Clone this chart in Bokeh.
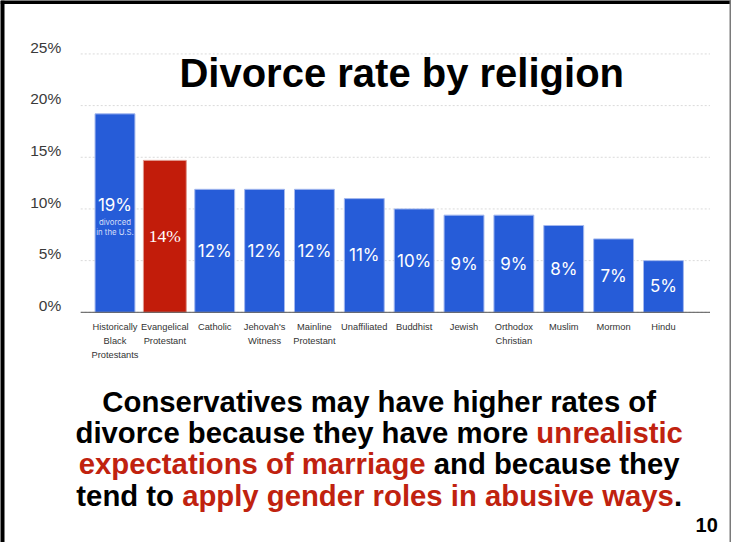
from bokeh.plotting import figure
from bokeh.models import Range1d, Label, Span, ColumnDataSource
from bokeh.core.properties import value
from bokeh.embed import file_html
from bokeh.resources import INLINE

# ---------------- data ----------------
categories = ["Historically\nBlack\nProtestants", "Evangelical\nProtestant", "Catholic",
              "Jehovah's\nWitness", "Mainline\nProtestant", "Unaffiliated", "Buddhist",
              "Jewish", "Orthodox\nChristian", "Muslim", "Mormon", "Hindu"]
divorce_rate = [19.2, 14.7, 11.9, 11.9, 11.9, 11.0, 10.0, 9.4, 9.4, 8.4, 7.1, 5.0]
rate_labels = ["19%", "14%", "12%", "12%", "12%", "11%", "10%", "9%", "9%", "8%", "7%", "5%"]
highlight_index = 1
first_bar_note = ["divorced", "in the U.S."]
y_ticks = [0, 5, 10, 15, 20, 25]
y_tick_labels = ["0%", "5%", "10%", "15%", "20%", "25%"]
title_text = "Divorce rate by religion"
note_lines = [
    [("Conservatives may have higher rates of", "black")],
    [("divorce because they have more ", "black"), ("unrealistic", "red")],
    [("expectations of marriage", "red"), (" and because they", "black")],
    [("tend to ", "black"), ("apply gender roles in abusive ways", "red"), (".", "black")],
]
page_number = "10"

# ---------------- styles / layout ----------------
BLUE = "#265cd8"
BLUE_EDGE = "#a3b8ee"
RED = "#c21c0a"
RED_EDGE = "#e0998f"
TEXT_RED = "#c0220f"
SANS = "Liberation Sans"

W, H = 731, 542
PX_PER_CAT = 49.86      # horizontal distance between bar centres
FIRST_BAR_PX = 114.49   # centre of first bar from the left edge
PX_PER_PCT = 10.335     # vertical pixels per percentage point
ZERO_PX = 311.8         # baseline from the top edge
GRID_LEFT_PX, GRID_RIGHT_PX = 80.2, 709.5

x_start = -FIRST_BAR_PX / PX_PER_CAT
x_end = x_start + W / PX_PER_CAT
y_end = ZERO_PX / PX_PER_PCT
y_start = y_end - H / PX_PER_PCT
gx0 = x_start + GRID_LEFT_PX / PX_PER_CAT
gx1 = x_start + GRID_RIGHT_PX / PX_PER_CAT

p = figure(width=W, height=H, output_backend="svg", toolbar_location=None,
           x_range=Range1d(x_start, x_end), y_range=Range1d(y_start, y_end),
           x_axis_location=None, y_axis_location=None, min_border=0,
           background_fill_color="white", border_fill_color="white",
           outline_line_color=None)
p.grid.visible = False

# slide frame
p.add_layout(Span(location=x_start, dimension="height", line_color="black", line_width=8))
p.add_layout(Span(location=y_end, dimension="width", line_color="black", line_width=7))
p.add_layout(Span(location=x_end, dimension="height", line_color="#7a7a7a", line_width=4))

# gridlines
n = len(y_ticks)
p.segment(x0=[gx0] * n, y0=y_ticks, x1=[gx1] * n, y1=y_ticks,
          line_color="#dadada", line_dash="2 2", line_width=1)

# y tick labels (sit a little above their gridlines)
LIFT = 6.8 / PX_PER_PCT
for t, lab in zip(y_ticks, y_tick_labels):
    p.add_layout(Label(x=60.7, x_units="screen", y=t + LIFT, y_units="data", text=lab,
                       text_align="right", text_baseline="middle", text_font=SANS,
                       text_font_size="15.5px", text_color="#3a3a3a"))

# ---------------- bars ----------------
xs = list(range(len(categories)))
blue_idx = [i for i in xs if i != highlight_index]
blue = ColumnDataSource(dict(x=[xs[i] for i in blue_idx],
                             top=[divorce_rate[i] for i in blue_idx]))
red = ColumnDataSource(dict(x=[xs[highlight_index]], top=[divorce_rate[highlight_index]]))
p.vbar(x="x", top="top", bottom=0, width=0.8, source=blue,
       fill_color=BLUE, line_color=BLUE_EDGE, line_width=1)
p.vbar(x="x", top="top", bottom=0, width=0.86, source=red,
       fill_color=RED, line_color=RED_EDGE, line_width=1)

# baseline
p.segment(x0=[gx0], y0=[0], x1=[gx1], y1=[0], line_color="#555555", line_width=1)

# category labels
cat_src = ColumnDataSource(dict(x=xs, y=[-10.0 / PX_PER_PCT] * len(xs), t=categories))
p.text(x="x", y="y", text="t", source=cat_src, text_align="center", text_baseline="top",
       text_color="#333333", text_font=value(SANS), text_font_size="9.3px",
       text_line_height=1.39)

# value labels in the middle of the bars
mid_idx = [i for i in xs if i not in (0, highlight_index)]
mid_src = ColumnDataSource(dict(x=[xs[i] for i in mid_idx],
                                y=[divorce_rate[i] / 2 for i in mid_idx],
                                t=[rate_labels[i] for i in mid_idx]))
p.text(x="x", y="y", text="t", source=mid_src, text_align="center", text_baseline="middle",
       text_color="white", text_font=value("Inter"), text_font_size="17px")

first_src = ColumnDataSource(dict(x=[xs[0]], y=[divorce_rate[0] / 2 + 0.75], t=[rate_labels[0]]))
p.text(x="x", y="y", text="t", source=first_src, text_align="center", text_baseline="middle",
       text_color="white", text_font=value("Inter"), text_font_size="17px")
note_src = ColumnDataSource(dict(x=[xs[0], xs[0]],
                                 y=[divorce_rate[0] / 2 - 0.86, divorce_rate[0] / 2 - 1.8],
                                 t=first_bar_note))
p.text(x="x", y="y", text="t", source=note_src, text_align="center", text_baseline="middle",
       text_color="#d5def8", text_font=value("Inter"), text_font_size="7.8px")

red_lbl = ColumnDataSource(dict(x=[xs[highlight_index]], y=[divorce_rate[highlight_index] / 2],
                                t=[rate_labels[highlight_index]]))
p.text(x="x", y="y", text="t", source=red_lbl, text_align="center", text_baseline="middle",
       text_color="white", text_font=value("Liberation Serif"), text_font_size="17.5px")

# ---------------- slide texts ----------------
p.add_layout(Label(x=401.2, y=H - 72.8, x_units="screen", y_units="screen", text=title_text,
                   text_align="center", text_baseline="middle", text_font=SANS,
                   text_font_style="bold", text_font_size="40px", text_color="black"))

# Arial/Liberation Sans Bold advance widths (1/1000 em) for centring mixed-colour lines
ADV = {' ': 278, '.': 278, 'C': 722, 'a': 556, 'b': 611, 'c': 556, 'd': 611, 'e': 556,
       'f': 333, 'g': 611, 'h': 611, 'i': 278, 'l': 278, 'm': 889, 'n': 611, 'o': 611,
       'p': 611, 'r': 389, 's': 556, 't': 333, 'u': 611, 'v': 556, 'w': 778, 'x': 556, 'y': 556}
NOTE_SIZE = 29.3
def tw(s):
    return sum(ADV.get(ch, 556) for ch in s) * NOTE_SIZE / 1000.0

center_x = 378.7
line_centres = [400.7, 432.2, 463.3, 495.4]
for segs, cy in zip(note_lines, line_centres):
    total = sum(tw(s) for s, _ in segs)
    cur = center_x - total / 2
    for s, col in segs:
        lead = len(s) - len(s.lstrip(' '))
        p.add_layout(Label(x=cur + tw(' ' * lead), y=H - cy, x_units="screen", y_units="screen",
                           text=s.strip(), text_align="left", text_baseline="middle",
                           text_font=SANS, text_font_style="bold",
                           text_font_size=f"{NOTE_SIZE}px",
                           text_color=TEXT_RED if col == "red" else "black"))
        cur += tw(s)

p.add_layout(Label(x=717.3, y=H - 524.5, x_units="screen", y_units="screen", text=page_number,
                   text_align="right", text_baseline="middle", text_font=SANS,
                   text_font_style="bold", text_font_size="20px", text_color="black"))

open("out.html", "w").write(file_html(p, INLINE))
